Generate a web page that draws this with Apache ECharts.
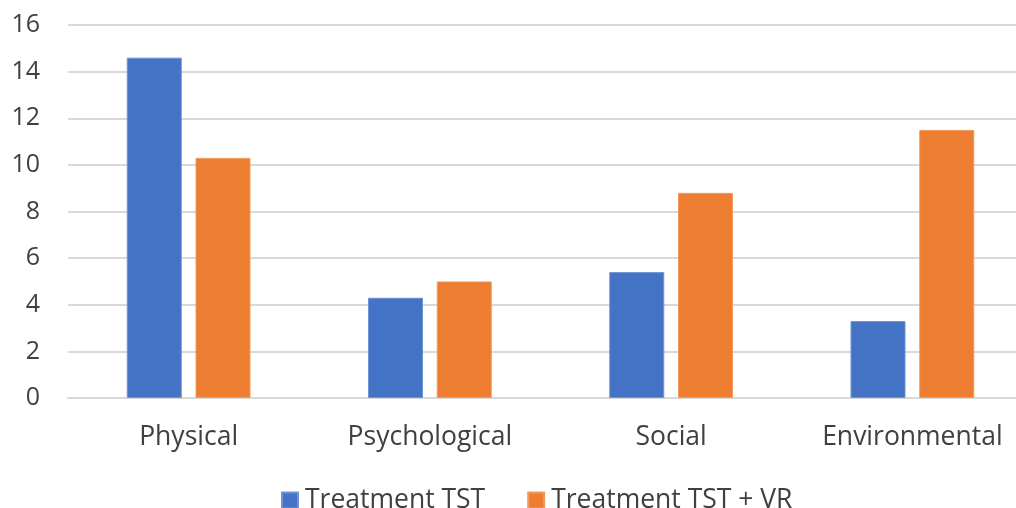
<!DOCTYPE html>
<html>
<head>
<meta charset="utf-8">
<script src="https://cdn.jsdelivr.net/npm/echarts@6/dist/echarts.min.js"></script>
<style>
  html, body { margin: 0; padding: 0; background: #ffffff; }
  #chart { width: 1016px; height: 508px; }
</style>
</head>
<body>
<div id="chart"></div>
<script>
// Domains and scores per treatment group
const categories = ['Physical', 'Psychological', 'Social', 'Environmental'];
const treatmentTST = [14.6, 4.3, 5.4, 3.3];
const treatmentTSTVR = [10.3, 5.0, 8.8, 11.5];
const seriesNames = ['Treatment TST', 'Treatment TST + VR'];

const fontFamily = '"Open Sans", "Noto Sans", sans-serif';
const textColor = '#404040';

const chart = echarts.init(document.getElementById('chart'));
chart.setOption({
  animation: false,
  textStyle: { fontFamily: fontFamily },
  // plot area runs past the right edge of the canvas
  grid: { left: 68, width: 965, top: 25, bottom: 110, containLabel: false, outerBoundsMode: 'none' },
  legend: {
    data: seriesNames,
    top: 482,
    left: 276,
    itemWidth: 16,
    itemHeight: 16,
    itemGap: 42,
    icon: 'rect',
    textStyle: { fontSize: 26.5, color: textColor, fontFamily: fontFamily, padding: [0, 0, 0, 2] }
  },
  xAxis: {
    type: 'category',
    data: categories,
    axisLine: { show: true, lineStyle: { color: '#d9d9d9', width: 2 } },
    axisTick: { show: false },
    axisLabel: { fontSize: 26.5, color: textColor, margin: 26, fontFamily: fontFamily }
  },
  yAxis: {
    type: 'value',
    min: 0,
    max: 16,
    interval: 2,
    axisLine: { show: false },
    axisTick: { show: false },
    splitLine: { lineStyle: { color: '#d9d9d9', width: 2 } },
    axisLabel: { fontSize: 25, color: textColor, margin: 28, fontFamily: fontFamily }
  },
  series: [
    {
      name: seriesNames[0],
      type: 'bar',
      data: treatmentTST,
      barWidth: 55,
      barGap: '25%',
      itemStyle: { color: '#4472C4', borderColor: '#6f93d6', borderWidth: 1 }
    },
    {
      name: seriesNames[1],
      type: 'bar',
      data: treatmentTSTVR,
      barWidth: 55,
      barGap: '25%',
      itemStyle: { color: '#ED7D31', borderColor: '#f39a5c', borderWidth: 1 }
    }
  ]
});
</script>
</body>
</html>
